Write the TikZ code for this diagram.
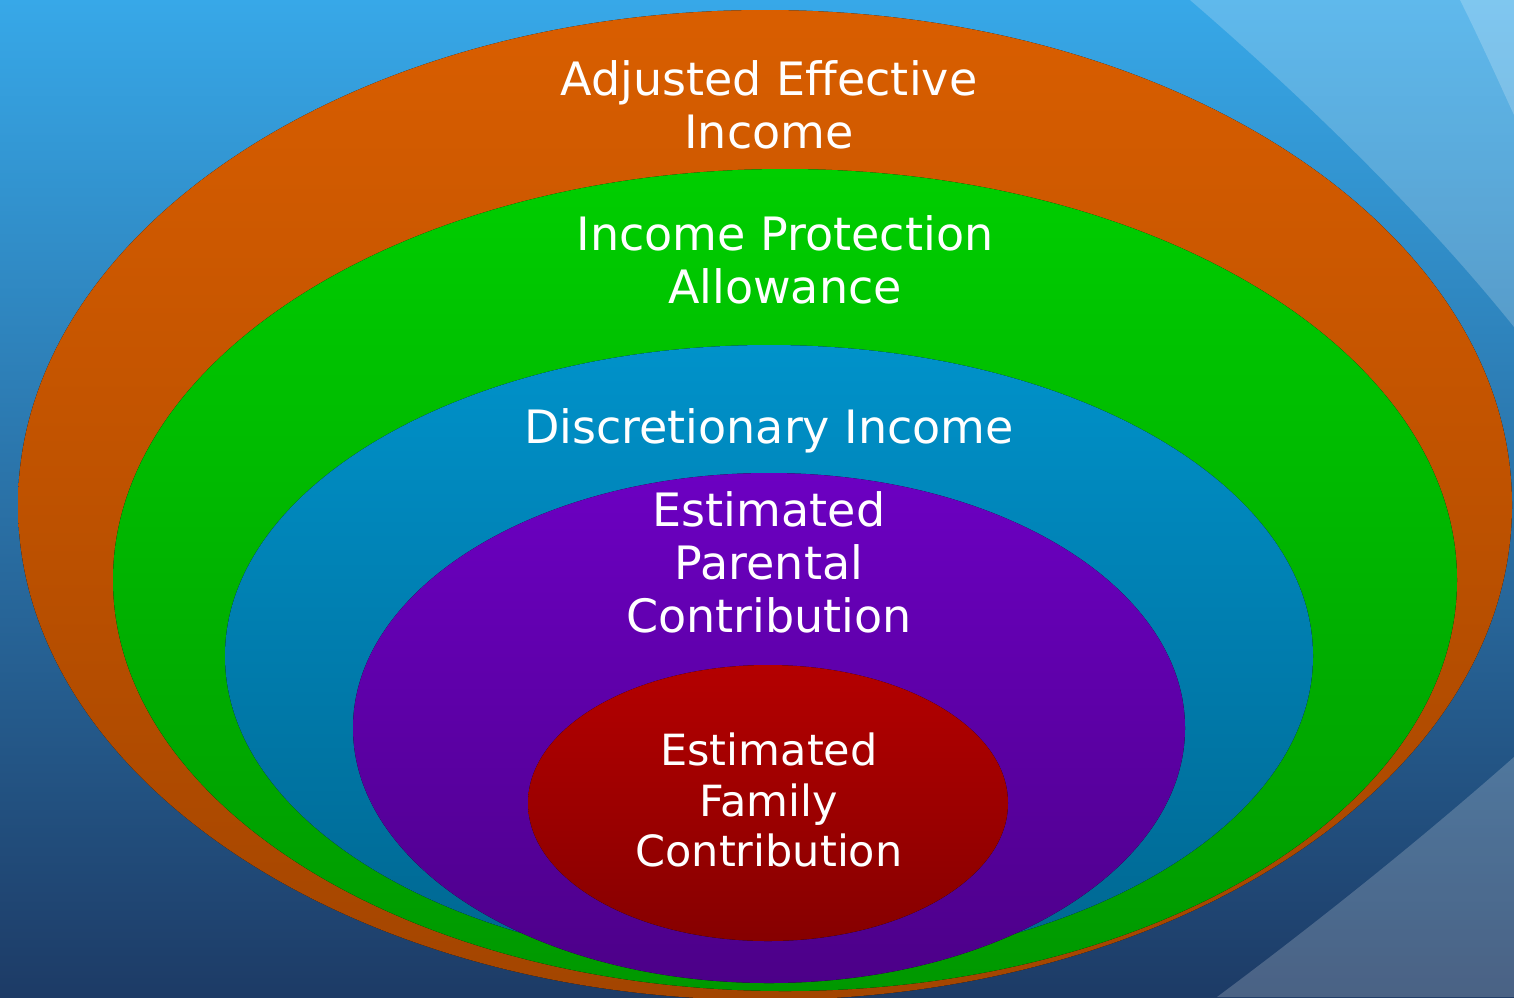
\documentclass[tikz,border=0pt]{standalone}
\usepackage{fontspec}
\setmainfont{DejaVu Sans}
\definecolor{bgtop}{HTML}{37A8E8}
\definecolor{bgmid}{HTML}{2B6EA4}
\definecolor{bgbot}{HTML}{1D3B66}
\definecolor{orA}{HTML}{D95E00}
\definecolor{orB}{HTML}{A34500}
\definecolor{grA}{HTML}{00CE00}
\definecolor{grB}{HTML}{009800}
\definecolor{blA}{HTML}{0092CA}
\definecolor{blB}{HTML}{006690}
\definecolor{puA}{HTML}{6C00C2}
\definecolor{puB}{HTML}{4C0088}
\definecolor{rdA}{HTML}{B40000}
\definecolor{rdB}{HTML}{860000}
\begin{document}
\begin{tikzpicture}[x=1pt,y=-1pt,
  ringtext/.style={text=white, align=center, inner sep=0pt, anchor=north,
    font=\fontsize{46}{53}\selectfont},
  smallringtext/.style={ringtext, font=\fontsize{43}{50.5}\selectfont},
  glow/.style={white, opacity=0.2}]
\useasboundingbox (0,0) rectangle (1514,997);
% backdrop
\shade[top color=bgtop, middle color=bgmid, bottom color=bgbot] (0,0) rectangle (1514,997);
\fill[glow] (1190,0) .. controls (1300,95) and (1420,210) .. (1514,327) -- (1514,0) -- cycle;
\fill[glow] (1460,0) .. controls (1480,40) and (1497,78) .. (1514,115) -- (1514,0) -- cycle;
\fill[glow] (1514,757) .. controls (1420,840) and (1320,920) .. (1217,997) -- (1514,997) -- cycle;
% nested rings, outermost first
\fill[top color=orA, bottom color=orB] (765,505) ellipse [x radius=747, y radius=495];
\fill[top color=grA, bottom color=grB] (785,580) ellipse [x radius=672, y radius=411];
\fill[top color=blA, bottom color=blB] (769,656) ellipse [x radius=544, y radius=311];
\fill[top color=puA, bottom color=puB] (769,728) ellipse [x radius=416, y radius=255];
\fill[top color=rdA, bottom color=rdB] (768,803) ellipse [x radius=240, y radius=138];
% labels
\node[ringtext] (aei) at (769,60) {Adjusted Effective\\Income};
\node[ringtext] (ipa) at (785,215) {Income Protection\\Allowance};
\node[ringtext] (di) at (769,408) {Discretionary Income};
\node[ringtext] (epc) at (769,491) {Estimated\\Parental\\Contribution};
\node[smallringtext] (efc) at (769,733) {Estimated\\Family\\Contribution};
\end{tikzpicture}
\end{document}
